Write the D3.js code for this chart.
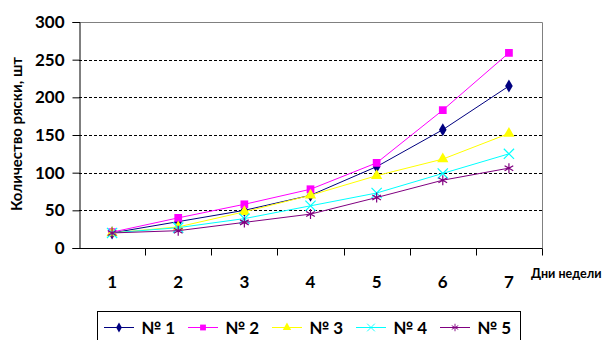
<!DOCTYPE html>
<html><head><meta charset="utf-8">
<script src="https://cdn.jsdelivr.net/npm/d3@7"></script>
<style>body{margin:0;background:#fff}svg{display:block}text{font-family:Lato,"Open Sans",sans-serif;font-weight:bold}</style>
</head><body><svg id="c" width="602" height="340"></svg>
<script>
const days = ["1","2","3","4","5","6","7"];
const yTicks = [0,50,100,150,200,250,300];
const seriesNames = ["№ 1","№ 2","№ 3","№ 4","№ 5"];
const s1 = [20,35,50,70,108,157,215];
const s2 = [21,40,58,78,113,183,259];
const s3 = [20,28,48,70,96,118,152];
const s4 = [20,27,39,56,73,99,125];
const s5 = [20,23,34,45,67,90,106];
const colors = ["#000080","#FF00FF","#FFFF00","#00FFFF","#800080"];
const symbols = ["diamond","square","triangle","x","star"];
const allSeries = [s1,s2,s3,s4,s5];

const svg = d3.select("#c");
const L=79,R=542,T=22,B=248;
const x = d3.scaleBand().domain(days).range([L,R]);
const y = d3.scaleLinear().domain([0,300]).range([B,T]);

// gridlines
svg.append("g").selectAll("line").data(yTicks.filter(d=>d>0&&d<300)).join("line")
  .attr("x1",L).attr("x2",R).attr("y1",d=>Math.round(y(d))+0.5).attr("y2",d=>Math.round(y(d))+0.5)
  .attr("stroke","#000").attr("stroke-dasharray","3,2").attr("stroke-width",1);
// top & right border
svg.append("path").attr("d",`M${L},${T+0.5}H${R+0.5}V${B}`).attr("fill","none").attr("stroke","#808080");

// axes
const yAxis = d3.axisLeft(y).tickValues(yTicks).tickSize(7).tickPadding(8);
const gy = svg.append("g").attr("transform",`translate(${L+0.5},0)`).call(yAxis);
gy.selectAll("text").attr("font-size",17).attr("fill","#000");
gy.select(".domain").attr("stroke","#000");

const xAxis = d3.axisBottom(x).tickSize(0).tickPadding(27);
const gx = svg.append("g").attr("transform",`translate(0,${B+0.5})`).call(xAxis);
gx.selectAll("text").attr("font-size",17).attr("fill","#000");
gx.select(".domain").attr("stroke","#000").attr("d",`M${L},0H${R+0.5}`);
// category separator ticks
gx.append("g").selectAll("line").data(days).join("line")
  .attr("x1",d=>Math.round(x(d)+x.bandwidth())+0.5)
  .attr("x2",d=>Math.round(x(d)+x.bandwidth())+0.5)
  .attr("y1",0).attr("y2",7).attr("stroke","#000");

// axis titles
svg.append("text").attr("transform","translate(22,134) rotate(-90)").attr("text-anchor","middle")
  .attr("font-size",15).text("Количество ряски, шт");
svg.append("text").attr("x",531).attr("y",278).attr("font-size",12.5).text("Дни недели");

const line = d3.line().x((d,i)=>x(days[i])+x.bandwidth()/2).y(d=>y(d));
const symMap = {diamond:d3.symbolDiamond,square:d3.symbolSquare,triangle:d3.symbolTriangle,x:d3.symbolX,star:d3.symbolAsterisk};
const symSize = {diamond:50,square:60,triangle:55,x:70,star:70};
function marker(g,k,c){
  const sym = d3.symbol().type(symMap[symbols[k]]).size(symSize[symbols[k]]);
  const p = g.append("path").attr("d",sym());
  if(symbols[k]==="x"||symbols[k]==="star") p.attr("fill","none").attr("stroke",c).attr("stroke-width",1.2);
  else p.attr("fill",c);
  return p;
}
allSeries.forEach((s,k)=>{
  svg.append("path").datum(s).attr("d",line).attr("fill","none").attr("stroke",colors[k]).attr("stroke-width",1);
  s.forEach((v,i)=>{
    const g = svg.append("g").attr("transform",`translate(${x(days[i])+x.bandwidth()/2},${y(v)})`);
    marker(g,k,colors[k]);
  });
});

// legend
svg.append("rect").attr("x",97.5).attr("y",311.5).attr("width",423).attr("height",40).attr("fill","#fff").attr("stroke","#000");
seriesNames.forEach((n,k)=>{
  const lx = 104 + k*84;
  const g = svg.append("g");
  g.append("line").attr("x1",lx).attr("x2",lx+30).attr("y1",327.5).attr("y2",327.5).attr("stroke",colors[k]);
  const m = g.append("g").attr("transform",`translate(${lx+15},327.5)`);
  marker(m,k,colors[k]).attr("transform","scale(0.75)");
  g.append("text").attr("x",lx+37).attr("y",334).attr("font-size",17).text(n);
});
</script></body></html>
